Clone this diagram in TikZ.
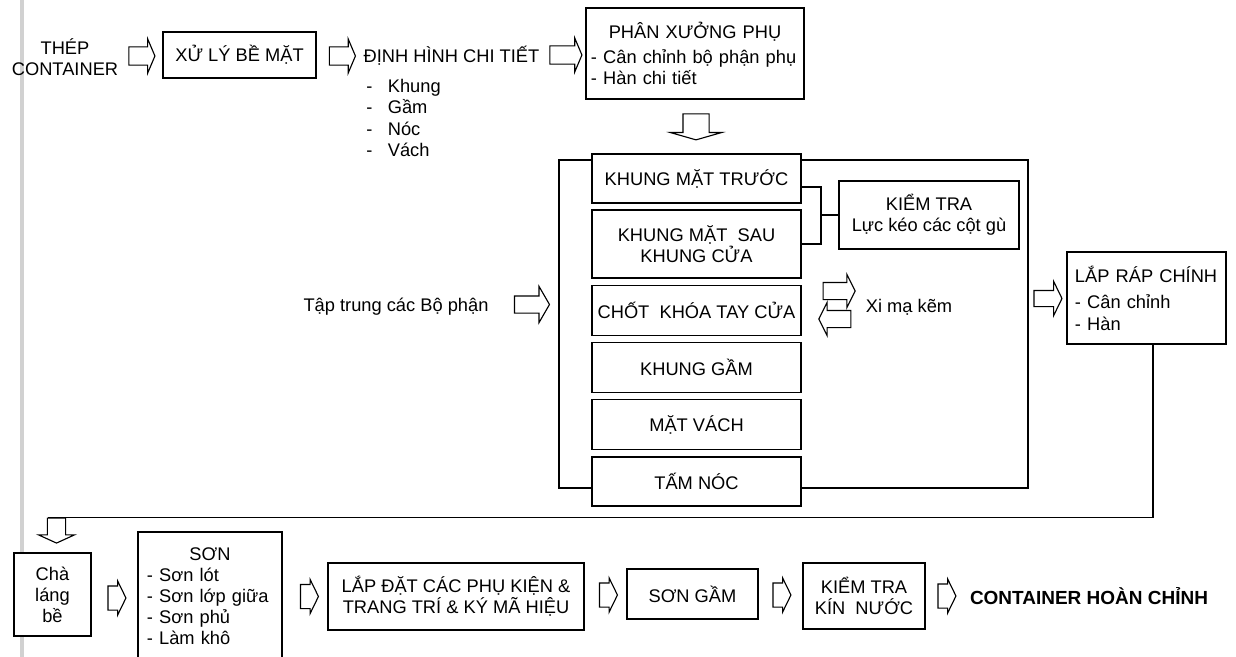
\documentclass[tikz,border=0pt]{standalone}
\usepackage{fontspec}
\setmainfont{Liberation Sans}
\usetikzlibrary{shapes.arrows,positioning}

\begin{document}
\begin{tikzpicture}[x=0.025cm, y=-0.025cm,
    every node/.style={font=\fontsize{13}{15}\selectfont, align=center},
    stage/.style={rectangle, draw, line width=1.1pt, fill=white, inner sep=2pt},
    part/.style={stage, minimum width=5.225cm, minimum height=1.25cm},
    link/.style={line width=1.1pt},
    barrow/.style n args={4}{single arrow, draw, line width=0.8pt, fill=white,
      minimum height=#1, inner xsep=0pt, inner ysep=#3,
      single arrow head extend=#2, single arrow tip angle=#4},
    toparrow/.style={barrow={0.65cm}{0.2cm}{0.2125cm}{134}},
    lowarrow/.style={barrow={0.45cm}{0.125cm}{0.2875cm}{128}}]
    \useasboundingbox (0,0) rectangle (1236,657);
    \draw[black!18, line width=2.2pt] (22,0) -- (22,657);
    % top row
    \node (thep) at (65,57) {THÉP\\CONTAINER};
    \node[toparrow] (a1) at (140,56) {};
    \node[stage, minimum width=3.825cm, minimum height=1.15cm] (xuly) at (239.5,55) {XỬ LÝ BỀ MẶT};
    \node[toparrow] (a2) at (340.5,56) {};
    \node (dinh) at (451.5,56) {ĐỊNH HÌNH CHI TIẾT};
    \node[align=left, anchor=west, inner sep=0pt] (loai) at (366,118)
      {-\hspace{11pt}Khung\\-\hspace{11pt}Gầm\\-\hspace{11pt}Nóc\\-\hspace{11pt}Vách};
    \node[barrow={0.8cm}{0.2cm}{0.2125cm}{134}] (a3) at (564,55) {};
    \node[stage, align=left, text width=5.2cm, inner xsep=0.125cm, minimum height=2.275cm] (phan) at (695,53.5)
      {\hspace*{\fill}PHÂN XƯỞNG PHỤ\hspace*{\fill}\null\\[3pt]- Cân chỉnh bộ phận phụ\\- Hàn chi tiết};
    \node[barrow={0.65cm}{0.3125cm}{0.3125cm}{148}, rotate=-90] (a4) at (696,125) {};
    % bo phan
    \draw[link] (559,160) rectangle (1028,488);
    \node[part, minimum height=1.225cm] (k1) at (696.5,178.5) {KHUNG MẶT TRƯỚC};
    \node[part, minimum height=1.7cm, below=0.14cm of k1] (k2) {KHUNG MẶT\ \ SAU\\KHUNG CỬA};
    \node[part, below=0.14cm of k2] (k3) {CHỐT\ \ KHÓA TAY CỬA};
    \node[part, below=0.14cm of k3] (k4) {KHUNG GẦM};
    \node[part, below=0.14cm of k4] (k5) {MẶT VÁCH};
    \node[part, minimum height=1.225cm, below=0.14cm of k5] (k6) {TẤM NÓC};
    \node[stage, minimum width=4.5cm, minimum height=1.7cm] (kt) at (929,215) {KIỂM TRA\\Lực kéo các cột gù};
    \coordinate (jn) at (821,215);
    \draw[link] ([yshift=-0.21cm]k1.east) -| (jn) |- (k2.east);
    \draw[link] (jn) -- (kt.west);
    \node (tap) at (396,307) {Tập trung các Bộ phận};
    \node[barrow={0.875cm}{0.2375cm}{0.2cm}{120}] (a5) at (529.5,304.5) {};
    \node[barrow={0.8cm}{0.2cm}{0.2cm}{127}] (xi1) at (837,291) {};
    \node[barrow={0.8cm}{0.2cm}{0.2cm}{127}, rotate=180] (xi2) at (837,319) {};
    \node (xima) at (909,307) {Xi mạ kẽm};
    \node[barrow={0.7cm}{0.225cm}{0.1875cm}{128}] (a6) at (1046,298.5) {};
    \node[stage, align=left, text width=3.575cm, inner xsep=0.2cm, minimum height=2.3cm] (lap) at (1146.5,298)
      {LẮP RÁP CHÍNH\\[4pt]- Cân chỉnh\\- Hàn};
    \node[barrow={0.625cm}{0.225cm}{0.2125cm}{131}, rotate=-90] (a7) at (56.5,528.5) {};
    \draw[link] ([xshift=0.16cm]lap.south) |- ([xshift=-0.2125cm]a7.tail);
    % bottom row
    \node[stage, minimum width=1.925cm, minimum height=2.075cm] (cha) at (52.5,594.5) {Chà\\láng\\bề};
    \node[lowarrow] (b1) at (114,598) {};
    \node[stage, anchor=north, align=left, text width=3.15cm, inner xsep=0.225cm, inner ysep=11pt] (son) at (210,531)
      {\hspace*{\fill}SƠN\hspace*{\fill}\null\\- Sơn lót\\- Sơn lớp giữa\\- Sơn phủ\\- Làm khô\\[1cm]\mbox{}};
    \node[lowarrow] (b2) at (306.5,596.5) {};
    \node[stage, minimum width=6.4cm, minimum height=1.675cm] (dat) at (456,596.5)
      {LẮP ĐẶT CÁC PHỤ KIỆN \&\\TRANG TRÍ \& KÝ MÃ HIỆU};
    \node[lowarrow] (b3) at (605.5,595) {};
    \node[stage, minimum width=3.275cm, minimum height=1.25cm] (sg) at (692.5,594) {SƠN GẦM};
    \node[lowarrow] (b4) at (779,595) {};
    \node[stage, minimum width=3.05cm, minimum height=1.65cm] (ktn) at (864,596) {KIỂM TRA\\KÍN\ \ NƯỚC};
    \node[lowarrow] (b5) at (944,596) {};
    \node[font=\fontsize{13.5}{15}\selectfont\bfseries] (xong) at (1089,596) {CONTAINER HOÀN CHỈNH};
\end{tikzpicture}
\end{document}
